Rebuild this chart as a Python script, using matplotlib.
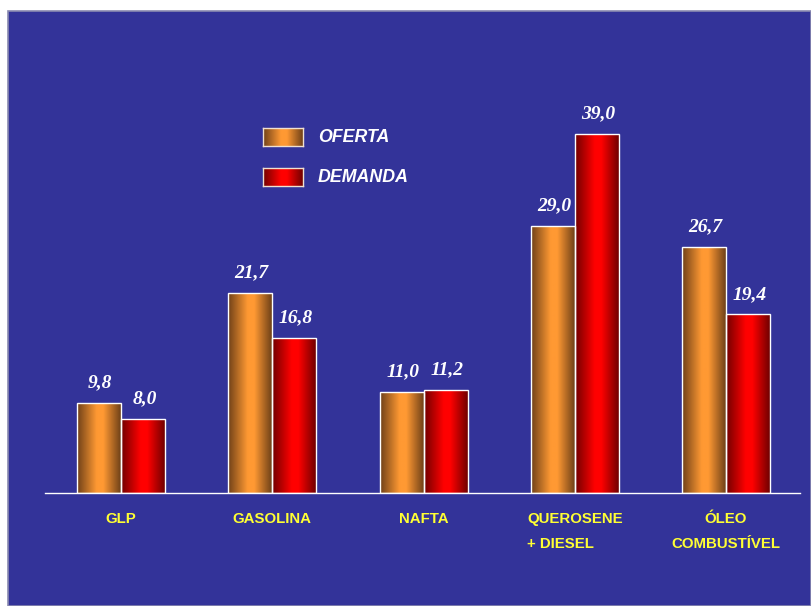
import numpy as np
import matplotlib
matplotlib.use("Agg")
import matplotlib.pyplot as plt
from matplotlib.patches import Rectangle
from matplotlib.colors import LinearSegmentedColormap

categories = ["GLP", "GASOLINA", "NAFTA", "QUEROSENE\n+ DIESEL", "ÓLEO\nCOMBUSTÍVEL"]
oferta = [9.8, 21.7, 11.0, 29.0, 26.7]
demanda = [8.0, 16.8, 11.2, 39.0, 19.4]
oferta_labels = ["9,8", "21,7", "11,0", "29,0", "26,7"]
demanda_labels = ["8,0", "16,8", "11,2", "39,0", "19,4"]
series_names = ["OFERTA", "DEMANDA"]

W, H = 811, 606
fig = plt.figure(figsize=(W / 100, H / 100), dpi=100, facecolor="white")

BG = "#333399"
fig.add_artist(Rectangle((8 / W, 0), (W - 8) / W, (H - 11) / H, transform=fig.transFigure,
                         facecolor=BG, edgecolor="#8a8ab0", linewidth=1.2, zorder=0))

# axes: x from 45 to 800 px, y from baseline 493 to top 11
ax = fig.add_axes([45 / W, (H - 493) / H, (800 - 45) / W, (493 - 11) / H])
ax.set_facecolor("none")
unit = 151.25
ax.set_xlim((45 - 121) / unit, (800 - 121) / unit)
ax.set_ylim(0, (493 - 11) / (359 / 39.0))

orange_cmap = LinearSegmentedColormap.from_list(
    "o", [(0, "#6e4018"), (0.45, "#ff9933"), (0.6, "#ff9933"), (1.0, "#6e4018")])
red_cmap = LinearSegmentedColormap.from_list(
    "r", [(0, "#700000"), (0.45, "#ff0000"), (0.6, "#ff0000"), (1.0, "#700000")])

grad = np.linspace(0, 1, 256).reshape(1, -1)
bw = 44 / unit
x = np.arange(len(categories))


def gradient_bars(xpos, vals, cmap):
    bars = ax.bar(xpos, vals, width=bw, facecolor="none", edgecolor="white", linewidth=1.0, zorder=3)
    for b in bars:
        bx, by = b.get_x(), b.get_y()
        im = ax.imshow(grad, cmap=cmap, aspect="auto", extent=[bx, bx + b.get_width(), by, by + b.get_height()],
                       zorder=2, interpolation="bilinear")
        im.set_clip_path(b)
    return bars


gradient_bars(x - bw / 2, oferta, orange_cmap)
gradient_bars(x + bw / 2, demanda, red_cmap)
ax.set_xlim((45 - 121) / unit, (800 - 121) / unit)
ax.set_ylim(0, (493 - 11) / (359 / 39.0))

lab_font = dict(color="white", fontsize=14, fontweight="bold", fontstyle="italic",
                family="Liberation Serif", ha="center", va="center")
for xi, v, t in zip(x - bw / 2, oferta, oferta_labels):
    ax.annotate(t, (xi, v), xytext=(1, 14.5), textcoords="offset points", **lab_font)
for xi, v, t in zip(x + bw / 2, demanda, demanda_labels):
    ax.annotate(t, (xi, v), xytext=(1, 14.5), textcoords="offset points", **lab_font)

for s in ["top", "right", "left"]:
    ax.spines[s].set_visible(False)
ax.spines["bottom"].set_color("white")
ax.spines["bottom"].set_linewidth(1.0)
ax.set_yticks([])
ax.set_xticks(x)
ax.set_xticklabels(categories, color="#ffff33", fontsize=10.8, fontweight="bold",
                   family="Liberation Sans", linespacing=1.95)
ax.tick_params(axis="x", length=0, pad=14)
aligns = ["center", "center", "center", "left", "center"]
for lbl, a in zip(ax.get_xticklabels(), aligns):
    lbl.set_multialignment(a)

# legend
leg_y = [137, 177]
cmaps = [orange_cmap, red_cmap]
for name, yc, cm in zip(series_names, leg_y, cmaps):
    lax = fig.add_axes([263 / W, (H - yc - 9) / H, 40 / W, 18 / H])
    lax.imshow(grad, cmap=cm, aspect="auto", interpolation="bilinear")
    lax.set_xticks([]); lax.set_yticks([])
    for sp in lax.spines.values():
        sp.set_color("#f0e0d0"); sp.set_linewidth(1.0)
    fig.text(318 / W, (H - yc) / H, name, color="white", fontsize=12.8, fontweight="bold",
             fontstyle="italic", family="Liberation Sans", ha="left", va="center")

fig.savefig("out.png", dpi=100, facecolor="white")
